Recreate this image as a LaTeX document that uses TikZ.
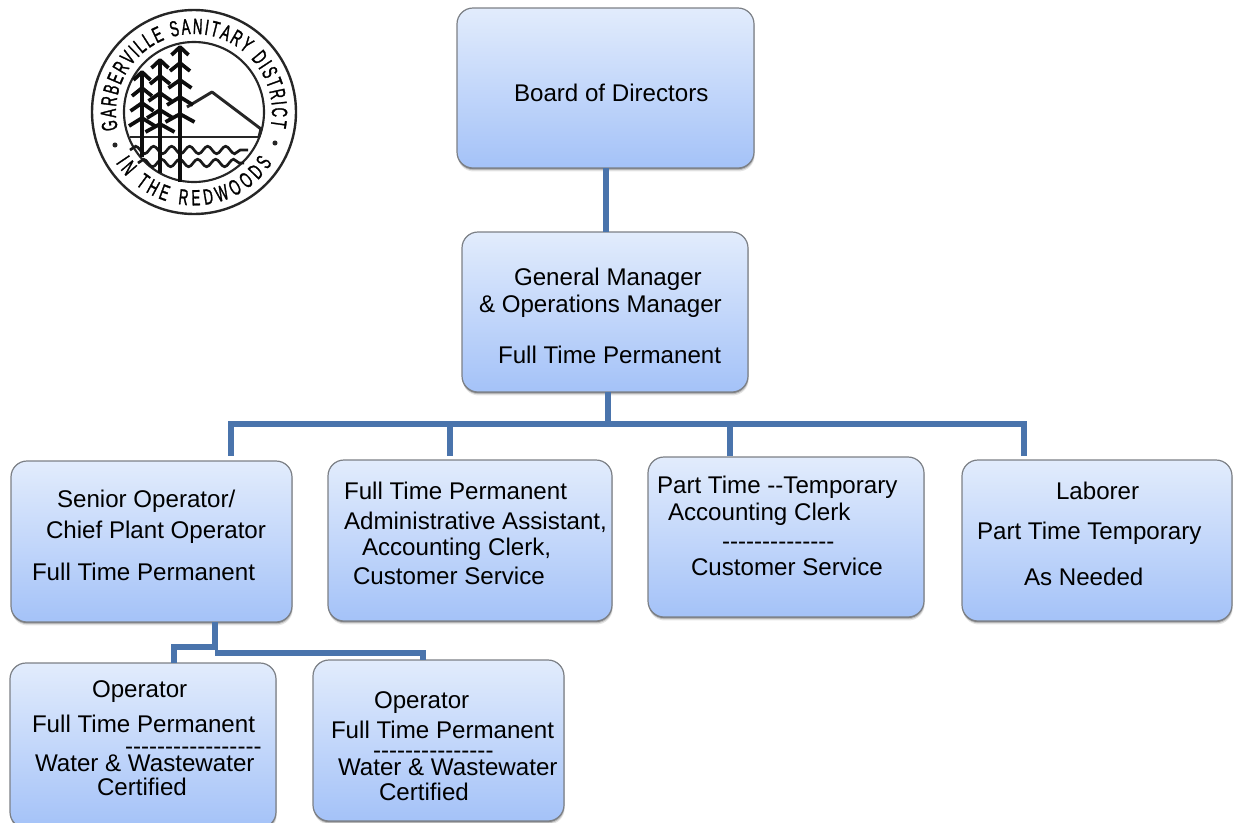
\documentclass[tikz,border=0pt]{standalone}
\usepackage{fontspec}
\usetikzlibrary{shadows,decorations.text,decorations.pathmorphing,calc}
\newfontfamily\labelfont{Liberation Sans}
\newfontfamily\logofont[FakeStretch=0.6,FakeBold=1.2]{Liberation Sans}
\definecolor{conncol}{HTML}{4A74AC}
\definecolor{boxtop}{HTML}{E2ECFC}
\definecolor{boxbot}{HTML}{A4C2F8}
\definecolor{boxedge}{HTML}{7C8086}
\newcommand\setc[2]{\def\cx{#1}\def\cy{#2}\ignorespaces}
\newcommand\tl[3]{\pgfmathsetlengthmacro\tlx{(#1-\cx)*0.75pt}\pgfmathsetlengthmacro\tly{(\cy-#2)*0.75pt}\rlap{\raisebox{\tly}[0pt][0pt]{\hspace*{\tlx}#3}}\ignorespaces}
\newcommand\orgbox[6]{\node[orgnode,minimum width={(#4-#2)*0.75pt},minimum height={(#5-#3)*0.75pt}] (#1) at ({(#2+#4)/2},{(#3+#5)/2}) {\setc{(#2+#4)/2}{(#3+#5)/2}#6};}
\tikzset{
  orgnode/.style={rectangle,rounded corners=12pt,draw=boxedge,line width=0.9pt,top color=boxtop,bottom color=boxbot,inner sep=0pt,outer sep=0pt,
    font=\labelfont\fontsize{18.1}{20}\selectfont,
    drop shadow={shadow xshift=0pt,shadow yshift=-0.8pt,opacity=.30,fill=black},
    drop shadow={shadow xshift=0.3pt,shadow yshift=-1.6pt,opacity=.18,fill=black},
    drop shadow={shadow xshift=0.5pt,shadow yshift=-2.6pt,opacity=.10,fill=black}},
  conn/.style={draw=conncol,line width=3.8pt},
  connthick/.style={draw=conncol,line width=5pt},
  logoline/.style={draw=black!85,line width=1.4pt},
  treeline/.style={draw=black!95,line width=2.8pt,line join=round},
  waveline/.style={draw=black!90,line width=2pt,decorate,decoration={snake,segment length=13.5pt,amplitude=2.8pt}},
  logotext/.style={decorate,decoration={text along path,text align={fit to path},text={#1}}}
}
\begin{document}
\begin{tikzpicture}[x=0.75pt,y=-0.75pt]
\useasboundingbox (0,0) rectangle (1233,822);
\orgbox{board}{457}{8}{754}{168}{\tl{514}{101}{Board of Directors}}
\orgbox{gm}{462}{232}{748}{392}{\tl{514}{285}{General Manager}\tl{479}{312}{\& Operations Manager}\tl{498}{363}{Full Time Permanent}}
\orgbox{senior}{11}{461}{292}{622}{\tl{57}{507}{Senior Operator/}\tl{46}{538}{Chief Plant Operator}\tl{32}{580}{Full Time Permanent}}
\orgbox{admin}{328}{460}{612}{621}{\tl{344}{499}{Full Time Permanent}\tl{344}{529}{Administrative Assistant,}\tl{362}{555}{Accounting Clerk,}\tl{353}{584}{Customer Service}}
\orgbox{part}{648}{457}{924}{617}{\tl{657}{493}{Part Time -{}-Temporary}\tl{668}{520}{Accounting Clerk}\tl{722}{549}{-{}-{}-{}-{}-{}-{}-{}-{}-{}-{}-{}-{}-{}-}\tl{691}{575}{Customer Service}}
\orgbox{laborer}{962}{460}{1232}{621}{\tl{1056}{499}{Laborer}\tl{977}{539}{Part Time Temporary}\tl{1024}{585}{As Needed}}
\orgbox{opa}{10}{663}{276}{828}{\tl{92}{697}{Operator}\tl{32}{732}{Full Time Permanent}\tl{125}{754}{-{}-{}-{}-{}-{}-{}-{}-{}-{}-{}-{}-{}-{}-{}-{}-{}-}\tl{35}{771}{Water \& Wastewater}\tl{97}{795}{Certified}}
\orgbox{opb}{313}{660}{564}{821}{\tl{374}{708}{Operator}\tl{331}{738}{Full Time Permanent}\tl{373}{758}{-{}-{}-{}-{}-{}-{}-{}-{}-{}-{}-{}-{}-{}-{}-}\tl{338}{775}{Water \& Wastewater}\tl{379}{800}{Certified}}
% tree connectors
\coordinate (busa) at (231,424);
\coordinate (busb) at (450,424);
\coordinate (busc) at (730,424);
\coordinate (busd) at (1024,424);
\coordinate (trunk) at (608,424);
\coordinate (sub) at (215,650);
\coordinate (suba) at (174,647);
\coordinate (subb) at (423,653);
\coordinate (boardline) at (606,200);
\draw[conn,line width=4.2pt] (boardline |- board.south) -- (boardline |- gm.north);
\draw[connthick] (trunk |- gm.south) -- (trunk);
\draw[conn,line cap=rect] (busa) -- (busd);
\draw[conn,shorten >=3.75pt] (busa) -- (busa |- senior.north);
\draw[conn,shorten >=3pt] (busb) -- (busb |- admin.north);
\draw[conn,shorten >=0.75pt] (busc) -- (busc |- part.north);
\draw[conn,shorten >=3pt] (busd) -- (busd |- laborer.north);
\draw[connthick] (sub |- senior.south) -- (sub);
\draw[conn] (sub |- suba) -- (suba) -- (suba |- opa.north);
\draw[conn] (sub |- subb) -- (subb) -- (subb |- opb.north);
% logo
\draw[logoline,line width=1.8pt] (194,112) circle[radius=76.5pt];
\draw[logoline,line width=1.6pt] (194,112) circle[radius=52.5pt];
\begin{scope}[shift={(194,112)},x=0.75pt,y=0.75pt]
\path[logotext={|\logofont\fontsize{16.5}{18}\selectfont|GARBERVILLE SANITARY DISTRICT}] (193:58.5pt) arc[start angle=193,end angle=-11,radius=58.5pt];
\path[logotext={|\logofont\fontsize{16.5}{18}\selectfont|IN THE REDWOODS}] (213:70pt) arc[start angle=213,end angle=327,radius=70pt];
\end{scope}
\fill[black!85] (115,145) circle[radius=1.9pt];
\fill[black!85] (275,143) circle[radius=1.9pt];
% mountain, water
\draw[logoline,line width=2.2pt,line join=round] (187,107) -- (212,92) -- (261,129) -- (259,137);
\draw[logoline,line width=1.8pt] (130,137) -- (260,137);
\draw[waveline] (130,150) -- (248,150);
\draw[waveline] (138,163) -- (244,163);
% trees
\foreach \tx/\ty/\tb/\levels in {142/72/157/{72,88,103,118},160/60/173/{60,76,93,110,124},180/47/182/{47,63,80,97,114}}{
  \draw[treeline] (\tx,\ty) -- (\tx,\tb);
  \foreach \lv [count=\i] in \levels {
    \draw[treeline] ({\tx-7-\i*1.5},\lv+8) -- (\tx,\lv) -- ({\tx+7+\i*1.5},\lv+8);
  }
}
\end{tikzpicture}
\end{document}
